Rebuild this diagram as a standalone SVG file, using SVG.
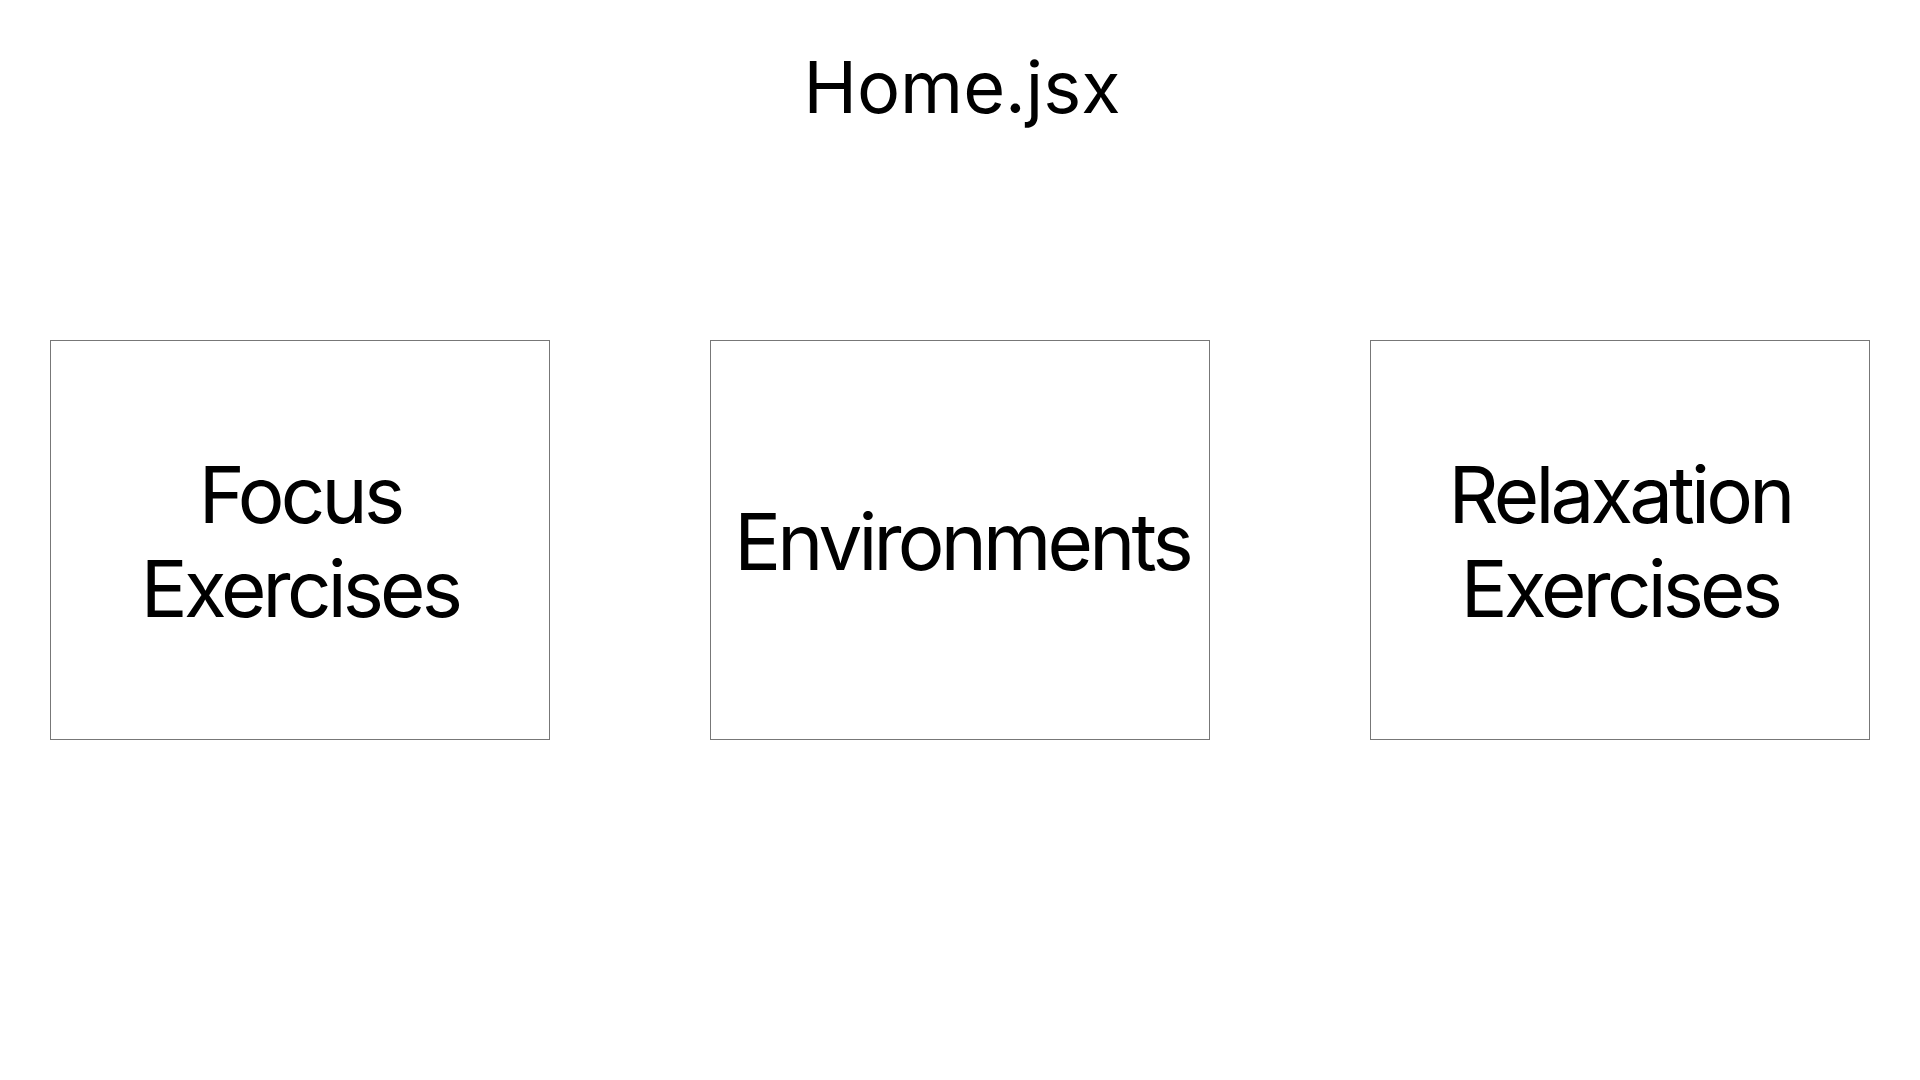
<svg xmlns="http://www.w3.org/2000/svg" width="1920" height="1080" viewBox="0 0 1920 1080">
<style>
.box{fill:#fff;stroke:#777;stroke-width:1}
.lbl{font-family:Inter,"Liberation Sans",sans-serif;font-size:78px;fill:#000;text-anchor:middle;letter-spacing:-3.8px}
.title{font-family:Inter,"Liberation Sans",sans-serif;font-size:72px;fill:#000;text-anchor:middle}
</style>
<rect width="1920" height="1080" fill="#fff"/>
<g id="title"><text class="title" x="962" y="112.7">Home.jsx</text></g>
<g id="connectors"></g>
<g id="focus">
<rect class="box" x="50.5" y="340.5" width="499" height="399"/>
<text class="lbl" x="300" y="522.7">Focus</text>
<text class="lbl" x="300" y="616.7">Exercises</text>
</g>
<g id="environments">
<rect class="box" x="710.5" y="340.5" width="499" height="399"/>
<text class="lbl" x="962" y="570">Environments</text>
</g>
<g id="relaxation">
<rect class="box" x="1370.5" y="340.5" width="499" height="399"/>
<text class="lbl" x="1620" y="522.7">Relaxation</text>
<text class="lbl" x="1620" y="616.7">Exercises</text>
</g>
</svg>
